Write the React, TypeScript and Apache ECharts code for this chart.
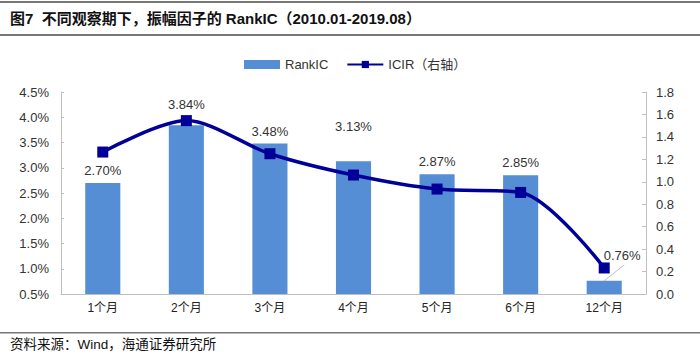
import React, { useEffect, useRef } from "react";
import * as echarts from "echarts";

const categories = ["1个月", "2个月", "3个月", "4个月", "5个月", "6个月", "12个月"];
const rankIC = [2.70, 3.84, 3.48, 3.13, 2.87, 2.85, 0.76];
const icir = [1.265, 1.545, 1.25, 1.06, 0.935, 0.905, 0.232];
const leftTicks = { min: 0.5, max: 4.5, interval: 0.5 };
const rightTicks = { min: 0, max: 1.8, interval: 0.2 };

const CJK = '"Liberation Sans", Arial, "Noto Sans CJK SC", sans-serif';

export default function App() {
  const ref = useRef<HTMLDivElement>(null);
  useEffect(() => {
    const chart = echarts.init(ref.current!, undefined, { renderer: "svg" });
    const labelOffsets: Record<number, [number, number]> = {
      1: [0, -8],
      3: [0, -22],
      6: [18, -13],
    };
    const baseGraphic = [
      { type: "rect", shape: { x: 0, y: 1, width: 700, height: 2 }, style: { fill: "#777" } },
      { type: "rect", shape: { x: 0, y: 34, width: 700, height: 2 }, style: { fill: "#777" } },
      {
        type: "text", left: 10, top: 11,
        style: { text: "图7  不同观察期下，振幅因子的 RankIC（2010.01-2019.08）", font: 'bold 15px "Liberation Sans", Arial, "Noto Sans CJK SC"', fill: "#111" },
      },
      { type: "rect", shape: { x: 0, y: 332, width: 700, height: 1.5 }, style: { fill: "#777" } },
      {
        type: "text", left: 10, top: 338,
        style: { text: "资料来源：Wind，海通证券研究所", font: '13.5px "Liberation Sans", Arial, "Noto Sans CJK SC"', fill: "#111" },
      },
    ];
    chart.setOption({
      animation: false,
      textStyle: { fontFamily: CJK },
      graphic: baseGraphic,
      legend: {
        left: 239, top: 53,
        itemGap: 18,
        itemWidth: 36,
        itemHeight: 9,
        textStyle: { fontSize: 13, color: "#333", fontFamily: CJK },
        data: [
          { name: "RankIC", icon: "rect" },
          { name: "ICIR（右轴）" },
        ],
      },
      grid: { left: 61, right: 54, top: 92, bottom: 64 },
      xAxis: {
        type: "category",
        data: categories,
        axisLine: { lineStyle: { color: "#BFBFBF" } },
        axisTick: { inside: true, length: 4, lineStyle: { color: "#BFBFBF" } },
        axisLabel: { color: "#222", fontSize: 12, margin: 8, fontFamily: CJK },
      },
      yAxis: [
        {
          type: "value",
          min: leftTicks.min, max: leftTicks.max, interval: leftTicks.interval,
          axisLine: { show: true, lineStyle: { color: "#BFBFBF" } },
          axisTick: { show: true, inside: true, length: 3, lineStyle: { color: "#BFBFBF" } },
          splitLine: { show: false },
          axisLabel: { color: "#333", fontSize: 13, margin: 12, formatter: (v: number) => v.toFixed(1) + "%" },
        },
        {
          type: "value",
          min: rightTicks.min, max: rightTicks.max, interval: rightTicks.interval,
          axisLine: { show: true, lineStyle: { color: "#BFBFBF" } },
          axisTick: { show: true, inside: true, length: 4, lineStyle: { color: "#BFBFBF" } },
          splitLine: { show: false },
          axisLabel: { color: "#333", fontSize: 13, margin: 10, formatter: (v: number) => v.toFixed(1) },
        },
      ],
      series: [
        {
          name: "RankIC",
          type: "bar",
          barWidth: "42%",
          yAxisIndex: 0,
          itemStyle: { color: "#558ED5" },
          data: rankIC,
          label: {
            show: true,
            position: "top",
            distance: 6,
            color: "#333",
            fontSize: 13,
            formatter: (p: any) => Number(p.value).toFixed(2) + "%",
          },
          labelLayout: (p: any) => {
            const o = labelOffsets[p.dataIndex];
            return o ? { dx: o[0], dy: o[1] } : {};
          },
        },
        {
          name: "ICIR（右轴）",
          type: "line",
          yAxisIndex: 1,
          smooth: 0.3,
          data: icir,
          symbol: "rect",
          symbolSize: 11,
          z: 3,
          itemStyle: { color: "#000099" },
          lineStyle: { color: "#000099", width: 3.5 },
        },
      ],
    });
    // leader line from last bar's top to its moved label
    const last = rankIC.length - 1;
    const p = chart.convertToPixel({ xAxisIndex: 0, yAxisIndex: 0 } as any, [last, rankIC[last]]) as number[];
    if (p && isFinite(p[0]) && isFinite(p[1])) {
      chart.setOption({
        graphic: [
          ...baseGraphic,
          {
            type: "line",
            z: 1,
            shape: { x1: p[0], y1: p[1], x2: p[0] + 20, y2: p[1] - 16 },
            style: { stroke: "#BFBFBF", lineWidth: 1 },
          },
        ],
      });
    }
    return () => chart.dispose();
  }, []);
  return (
    <div
      ref={ref}
      style={{ position: "fixed", left: 0, top: 0, width: 700, height: 358, background: "#fff" }}
    />
  );
}
